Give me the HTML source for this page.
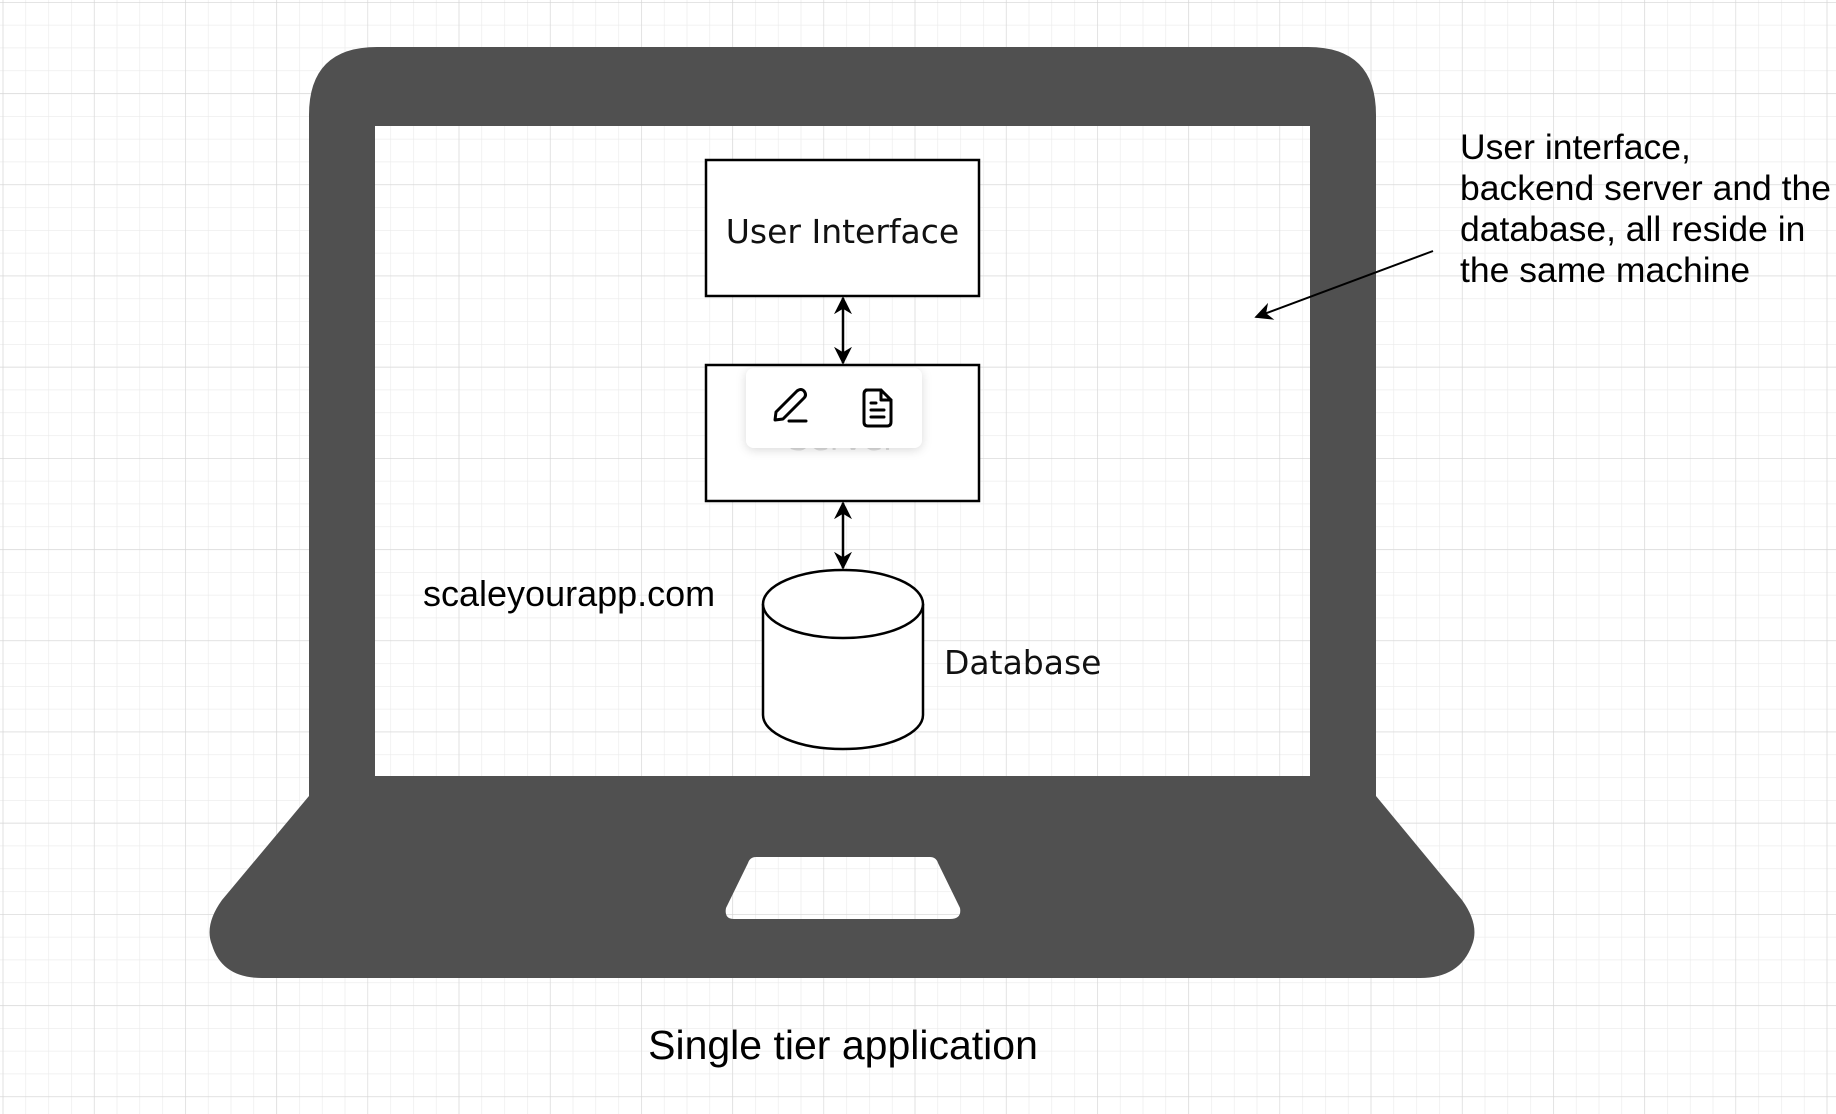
<!DOCTYPE html>
<html><head><meta charset="utf-8"><style>
html,body{margin:0;padding:0;background:#fff;}
svg{display:block;}
.hand{font-family:"Comic Sans MS","Liberation Sans",sans-serif;}
.sans{font-family:"DejaVu Sans","Liberation Sans",sans-serif;}
</style></head><body>
<svg width="1836" height="1114" viewBox="0 0 1836 1114" xmlns="http://www.w3.org/2000/svg">
<defs>
<pattern id="minor" x="2.7" y="2" width="22.8" height="22.8" patternUnits="userSpaceOnUse">
<path d="M0 0H22.8M0 0V22.8" stroke="#eaeaea" stroke-width="1.2" fill="none"/>
</pattern>
<pattern id="major" x="2.7" y="2" width="91.2" height="91.2" patternUnits="userSpaceOnUse">
<path d="M0 0H91.2M0 0V91.2" stroke="#d6d6d6" stroke-width="1.2" fill="none"/>
</pattern>
<filter id="sh" x="-20%" y="-30%" width="140%" height="160%"><feDropShadow dx="0" dy="2" stdDeviation="5" flood-color="#000" flood-opacity="0.15"/></filter>
<marker id="ah" viewBox="0 0 10 10" refX="9" refY="5" markerWidth="18" markerHeight="18" markerUnits="userSpaceOnUse" orient="auto-start-reverse"><path d="M0 0L10 5L0 10L3 5Z" fill="#000"/></marker>
</defs>
<rect width="1836" height="1114" fill="#fff"/>
<rect width="1836" height="1114" fill="url(#minor)"/>
<rect width="1836" height="1114" fill="url(#major)"/>

<path fill="#505050" fill-rule="evenodd" d="
M309 115 Q309 47 377 47 H1308 Q1376 47 1376 115 V796 L1462 900 Q1480 925 1472 945 Q1460 978 1420 978 H262 Q222 978 212 945 Q204 925 222 900 L309 796 Z
M375 126 V776 H1310 V126 Z
M756 857 H930 Q936 857 938 863 L960 908 Q962 919 950 919 H734 Q724 919 726 908 L748 863 Q750 857 756 857 Z"/>

<rect x="706" y="160" width="273" height="136" fill="#fff" stroke="#000" stroke-width="2.5"/>
<text x="842.5" y="243" text-anchor="middle" class="sans" font-size="33" fill="#111">User Interface</text>

<rect x="706" y="365" width="273" height="136" fill="#fff" stroke="#000" stroke-width="2.5"/>
<text x="842.5" y="450" text-anchor="middle" class="sans" font-size="33" fill="#ddd">Server</text>

<rect x="746" y="368" width="176" height="80" rx="8" fill="#fff" filter="url(#sh)"/>
<g fill="none" stroke="#000" stroke-width="3" stroke-linecap="round" stroke-linejoin="round">
<path d="M775 420 L776 412 L797 391 Q801 388 804 391 Q807 395 804 398 L783 419 Z"/>
<path d="M789 421 H806"/>
<path d="M866 390 H881 L891 400 V422 Q891 426 887 426 H868 Q864 426 864 422 V394 Q864 390 868 390 Z"/>
<path d="M881 390 V400 H891"/>
<path d="M871 403 H876 M871 410 H884 M871 417 H884"/>
</g>

<line x1="843" y1="298" x2="843" y2="363" stroke="#000" stroke-width="2.5" marker-start="url(#ah)" marker-end="url(#ah)"/>
<line x1="843" y1="503" x2="843" y2="568" stroke="#000" stroke-width="2.5" marker-start="url(#ah)" marker-end="url(#ah)"/>

<path d="M763 604 V715 A80 34 0 0 0 923 715 V604" fill="#fff" stroke="#000" stroke-width="2.5"/>
<ellipse cx="843" cy="604" rx="80" ry="34" fill="#fff" stroke="#000" stroke-width="2.5"/>
<text x="944" y="674" class="sans" font-size="33" fill="#111">Database</text>

<text x="423" y="606" class="hand" font-size="36" fill="#000">scaleyourapp.com</text>

<g class="hand" font-size="35.5" fill="#000">
<text x="1460" y="159">User interface,</text>
<text x="1460" y="200">backend server and the</text>
<text x="1460" y="241">database, all reside in</text>
<text x="1460" y="282">the same machine</text>
</g>
<line x1="1433" y1="251" x2="1256" y2="317" stroke="#000" stroke-width="2" marker-end="url(#ah)"/>

<text x="843" y="1059" text-anchor="middle" class="hand" font-size="41" fill="#000">Single tier application</text>
</svg>
</body></html>
